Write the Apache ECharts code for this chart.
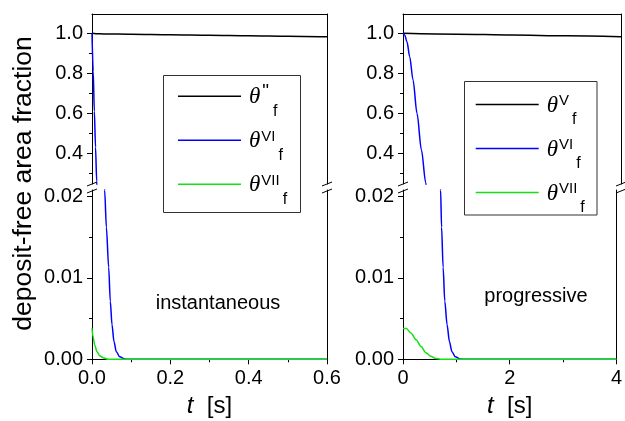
<!DOCTYPE html>
<html><head><meta charset="utf-8">
<script src="https://cdn.jsdelivr.net/npm/echarts@6/dist/echarts.min.js"></script>
<style>html,body{margin:0;padding:0;background:#fff}#c{width:625px;height:421px}</style>
</head><body><div id="c"></div>
<script>
// ---------- data ----------
// left panel: instantaneous, t in s
const leftBlackT = [0, 0.01, 0.03, 0.1, 0.2, 0.3, 0.4, 0.5, 0.6];
const leftBlackV = [1.0, 0.998, 0.997, 0.9954, 0.9929, 0.9903, 0.9877, 0.9851, 0.9825];
const leftBlueT = [0, 0.003, 0.006, 0.009, 0.012, 0.015, 0.02, 0.025, 0.029, 0.0323, 0.0367, 0.0426, 0.0467, 0.0511, 0.0561, 0.0621, 0.0707, 0.0834, 0.1, 0.6];
const leftBlueV = [1.0, 0.81, 0.61, 0.43, 0.26, 0.14, 0.065, 0.036, 0.026, 0.0208, 0.01625, 0.0113, 0.00715, 0.00426, 0.00218, 0.00094, 0.0003, 0.00003, 0, 0];
const leftGreenT = [0, 0.0026, 0.0068, 0.0128, 0.0196, 0.028, 0.041, 0.6];
const leftGreenV = [0.0038, 0.0028, 0.00177, 0.00094, 0.00045, 0.0002, 0, 0];
// right panel: progressive
const rightBlackT = [0, 1, 2, 3, 4];
const rightBlackV = [1.0, 0.9957, 0.9915, 0.9872, 0.983];
const rightBlueT = [0, 0.031, 0.073, 0.123, 0.184, 0.257, 0.338, 0.417, 0.45, 0.5, 0.55, 0.6, 0.65, 0.705, 0.723, 0.752, 0.783, 0.826, 0.87, 0.917, 0.98, 1.072, 1.2, 4];
const rightBlueV = [1.0, 0.9915, 0.958, 0.883, 0.767, 0.6, 0.417, 0.253, 0.19, 0.12, 0.075, 0.045, 0.03, 0.0208, 0.01625, 0.0113, 0.00715, 0.00426, 0.00218, 0.00094, 0.0003, 0.00003, 0, 0];
const rightGreenT = [0, 0.062, 0.154, 0.246, 0.338, 0.429, 0.521, 0.613, 0.7, 4];
const rightGreenV = [0.0038, 0.00378, 0.0032, 0.0024, 0.00157, 0.00082, 0.00037, 0.0001, 0.00001, 0];

const leftLegendSup = ['"', 'VI', 'VII'];
const rightLegendSup = ['V', 'VI', 'VII'];
const topTicks = [0.4, 0.6, 0.8, 1.0];
const topMinor = [0.3, 0.5, 0.7, 0.9];
const botTicks = [0, 0.01, 0.02];
const botMinor = [0.005, 0.015];
const topRange = [0.2465, 1.0965];
const botRange = [0, 0.02082];
const leftX = {min: 0, max: 0.6, interval: 0.2, digits: 1};
const rightX = {min: 0, max: 4, interval: 2, digits: 0};

// ---------- layout ----------
const FONT = 'Liberation Sans';
const AX = '#000';
const BLACK = '#000000', BLUE = '#0000ff', GREEN = '#14e014';
const panels = [
  {left: 92, right: 625 - 327, x: leftX, sups: leftLegendSup,
   curves: [[leftBlackT, leftBlackV, BLACK], [leftBlueT, leftBlueV, BLUE], [leftGreenT, leftGreenV, GREEN]]},
  {left: 403, right: 625 - 621, x: rightX, sups: rightLegendSup,
   curves: [[rightBlackT, rightBlackV, BLACK], [rightBlueT, rightBlueV, BLUE], [rightGreenT, rightGreenV, GREEN]]}
];
const TOP0 = 14, TOP1 = 184, BOT0 = 190, BOT1 = 359.3;

const grid = [], xAxis = [], yAxis = [], series = [], legend = [];
panels.forEach((p, pi) => {
  [0, 1].forEach(seg => {
    const g = pi * 2 + seg;
    const isTop = seg === 0;
    grid.push({left: p.left, right: p.right, top: isTop ? TOP0 : BOT0, height: isTop ? TOP1 - TOP0 : BOT1 - BOT0});
    xAxis.push({
      type: 'value', gridIndex: g, min: p.x.min, max: p.x.max, interval: p.x.interval,
      position: isTop ? 'top' : 'bottom',
      axisLine: {show: true, onZero: false, lineStyle: {color: AX, width: 1}},
      axisTick: {show: !isTop, length: 5, lineStyle: {color: AX}},
      minorTick: {show: !isTop, splitNumber: 2, length: 3, lineStyle: {color: AX}},
      axisLabel: {show: !isTop, margin: 9, fontSize: 20, color: '#000', fontFamily: FONT,
        formatter: v => v.toFixed(p.x.digits)},
      splitLine: {show: false},
      name: isTop ? '' : '{it|t}  [s]', nameLocation: 'middle', nameGap: 35,
      nameTextStyle: {fontSize: 24, color: '#000', fontFamily: FONT,
        rich: {it: {fontStyle: 'italic', fontSize: 24, fontFamily: FONT, color: '#000'}}}
    });
    const rng = isTop ? topRange : botRange;
    const major = isTop ? topTicks : botTicks;
    const minor = isTop ? topMinor : botMinor;
    const dig = isTop ? 1 : 2;
    yAxis.push({
      type: 'value', gridIndex: g, min: rng[0], max: rng[1], position: 'left',
      axisLine: {show: true, onZero: false, lineStyle: {color: AX, width: 1}},
      axisTick: {show: true, length: 5, customValues: major, lineStyle: {color: AX}},
      axisLabel: {show: true, margin: 9, fontSize: 20, color: '#000', fontFamily: FONT, customValues: major,
        formatter: v => v.toFixed(dig)},
      splitLine: {show: false}
    });
    yAxis.push({
      type: 'value', gridIndex: g, min: rng[0], max: rng[1], position: 'left',
      axisLine: {show: false, onZero: false},
      axisTick: {show: true, length: 3, customValues: minor, lineStyle: {color: AX}},
      axisLabel: {show: false}, splitLine: {show: false}
    });
    yAxis.push({
      type: 'value', gridIndex: g, min: rng[0], max: rng[1], position: 'right',
      axisLine: {show: true, onZero: false, lineStyle: {color: AX, width: 1}},
      axisTick: {show: false}, axisLabel: {show: false}, splitLine: {show: false}
    });
    p.curves.forEach((c, ci) => {
      series.push({
        type: 'line', name: 'θ' + p.sups[ci] + 'f', xAxisIndex: g, yAxisIndex: g * 3,
        data: c[0].map((t, i) => [t, c[1][i]]),
        symbol: 'none', smooth: 0.3, smoothMonotone: 'x', clip: true, silent: true,
        lineStyle: {color: c[2], width: 1.5}, itemStyle: {color: c[2]}
      });
    });
  });
});

const legendBase = {
  orient: 'vertical', selectedMode: false, icon: 'rect', itemWidth: 63, itemHeight: 1.5, itemGap: -2,
  padding: 0, borderWidth: 0,
  formatter: name => {
    const sup = name.slice(1, -1);
    return '{th|θ}{' + (sup === '"' ? 'sq' : 'sp') + '|' + sup + '}{sb|f}';
  },
  textStyle: {
    rich: {
      th: {fontFamily: 'Liberation Serif', fontStyle: 'italic', fontSize: 23, color: '#000', lineHeight: 30, padding: [2, 1, 0, 3]},
      sp: {fontFamily: FONT, fontSize: 15, color: '#000', lineHeight: 30, padding: [0, 0, 7, 0]},
      sq: {fontFamily: FONT, fontSize: 19, color: '#000', lineHeight: 30, padding: [0, 1, 9, 1]},
      sb: {fontFamily: FONT, fontSize: 16, color: '#000', lineHeight: 30, padding: [30, 0, 0, 3]}
    }
  }
};
legend.push(Object.assign({}, legendBase, {
  left: 178, top: 73.3,
  data: leftLegendSup.map(s => 'θ' + s + 'f')
}));
legend.push(Object.assign({}, legendBase, {
  left: 475.7, top: 81.6,
  data: rightLegendSup.map(s => 'θ' + s + 'f')
}));

const graphic = [
  {type: 'rect', shape: {x: 163.5, y: 75.5, width: 137, height: 137}, style: {fill: 'none', stroke: '#333', lineWidth: 1}, z: 50},
  {type: 'rect', shape: {x: 464.5, y: 81.5, width: 132.5, height: 133.5}, style: {fill: 'none', stroke: '#333', lineWidth: 1}, z: 50},
  {type: 'text', x: 24, y: 183.5, rotation: Math.PI / 2,
   style: {text: 'deposit-free area fraction', fontSize: 26.5, fontFamily: FONT, fill: '#000', textAlign: 'center', textVerticalAlign: 'middle'}},
  {type: 'text', x: 218, y: 303.3,
   style: {text: 'instantaneous', fontSize: 20, fontFamily: FONT, fill: '#000', textAlign: 'center', textVerticalAlign: 'middle'}},
  {type: 'text', x: 536, y: 296.7,
   style: {text: 'progressive', fontSize: 20, fontFamily: FONT, fill: '#000', textAlign: 'center', textVerticalAlign: 'middle'}}
];
[92, 327, 403, 621].forEach(x => {
  [184, 191].forEach(y => {
    graphic.push({type: 'line', shape: {x1: x - 5, y1: y + 2, x2: x + 5, y2: y - 2},
      style: {stroke: '#000', lineWidth: 1}, z: 100});
  });
});

const chart = echarts.init(document.getElementById('c'), null, {renderer: 'canvas'});
chart.setOption({
  animation: false,
  textStyle: {fontFamily: FONT},
  grid, xAxis, yAxis, series, legend, graphic
});
</script></body></html>
